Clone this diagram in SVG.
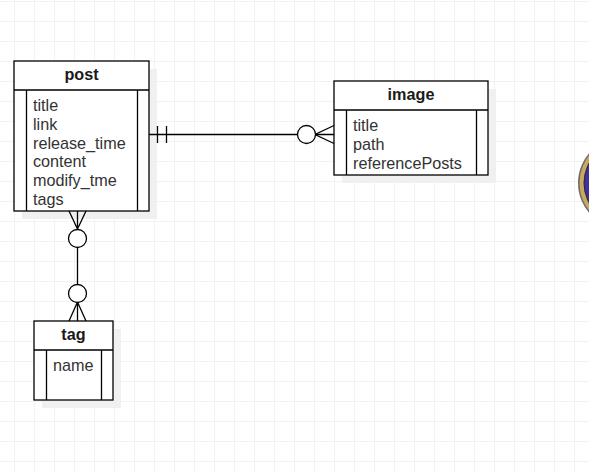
<svg xmlns="http://www.w3.org/2000/svg" width="589" height="472" viewBox="0 0 589 472">
<style>
.bx{fill:#fff;stroke:#000;stroke-width:1.3}
.sh{fill:#f0f0f0}
.ln{fill:none;stroke:#000;stroke-width:1.3}
.o{fill:#fff;stroke:#000;stroke-width:1.3}
text{font-family:"Liberation Sans",Arial,sans-serif;font-size:16.2px;fill:#333}
.h{font-weight:bold;text-anchor:middle;fill:#1a1a1a}
</style>
<defs>
<pattern id="g" width="20" height="20" patternUnits="userSpaceOnUse" x="14" y="1">
<path d="M0.5 0V20M0 0.5H20" fill="none" stroke="#f2f2f2" stroke-width="1"/>
</pattern>
</defs>
<rect width="589" height="472" fill="#fff"/>
<rect width="589" height="472" fill="url(#g)"/>
<g id="badge">
<circle cx="624" cy="183" r="46" fill="#3d3a3a" opacity=".75"/>
<circle cx="624" cy="183" r="44.500" fill="#c9a95f"/>
<circle cx="624" cy="183" r="40.500" fill="#2c2540"/>
<circle cx="624" cy="183" r="39.500" fill="#43309a"/>
</g>
<g id="post">
<rect class="sh" x="22" y="69" width="135" height="150"/>
<rect class="bx" x="14" y="61" width="135" height="150"/>
<path class="ln" d="M14 90H149M26.500 90V211M137.500 90V211"/>
<text class="h" x="81.500" y="80">post</text>
<text x="33" y="111">title</text>
<text x="33" y="130">link</text>
<text x="33" y="149">release_time</text>
<text x="33" y="167">content</text>
<text x="33" y="186">modify_tme</text>
<text x="33" y="205">tags</text>
</g>
<g id="image">
<rect class="sh" x="342" y="89" width="154" height="94"/>
<rect class="bx" x="334" y="81" width="154" height="94"/>
<path class="ln" d="M334 110H488M346.500 110V175M476.500 110V175"/>
<text class="h" x="411" y="100">image</text>
<text x="353" y="131">title</text>
<text x="353" y="150">path</text>
<text x="353" y="169">referencePosts</text>
</g>
<g id="tag">
<rect class="sh" x="42" y="329" width="79" height="79"/>
<rect class="bx" x="34" y="321" width="79" height="79"/>
<path class="ln" d="M34 350H113M46.500 350V400M101.500 350V400"/>
<text class="h" x="73.500" y="340">tag</text>
<text x="53" y="371">name</text>
</g>
<g id="connectors">
<path class="ln" d="M149 134.500H334M157.500 126V143M166.500 126V143"/>
<path class="ln" d="M334 125.500L315 134.500L334 143.500"/>
<circle class="o" cx="306.500" cy="134.500" r="9"/>
<path class="ln" d="M69 211L77.500 229L86 211M77.500 211V229M77.500 247V285"/>
<circle class="o" cx="77.500" cy="238.500" r="9"/>
<path class="ln" d="M69 321L77.500 302L86 321M77.500 302V321"/>
<circle class="o" cx="77.500" cy="293.500" r="9"/>
</g>
</svg>
